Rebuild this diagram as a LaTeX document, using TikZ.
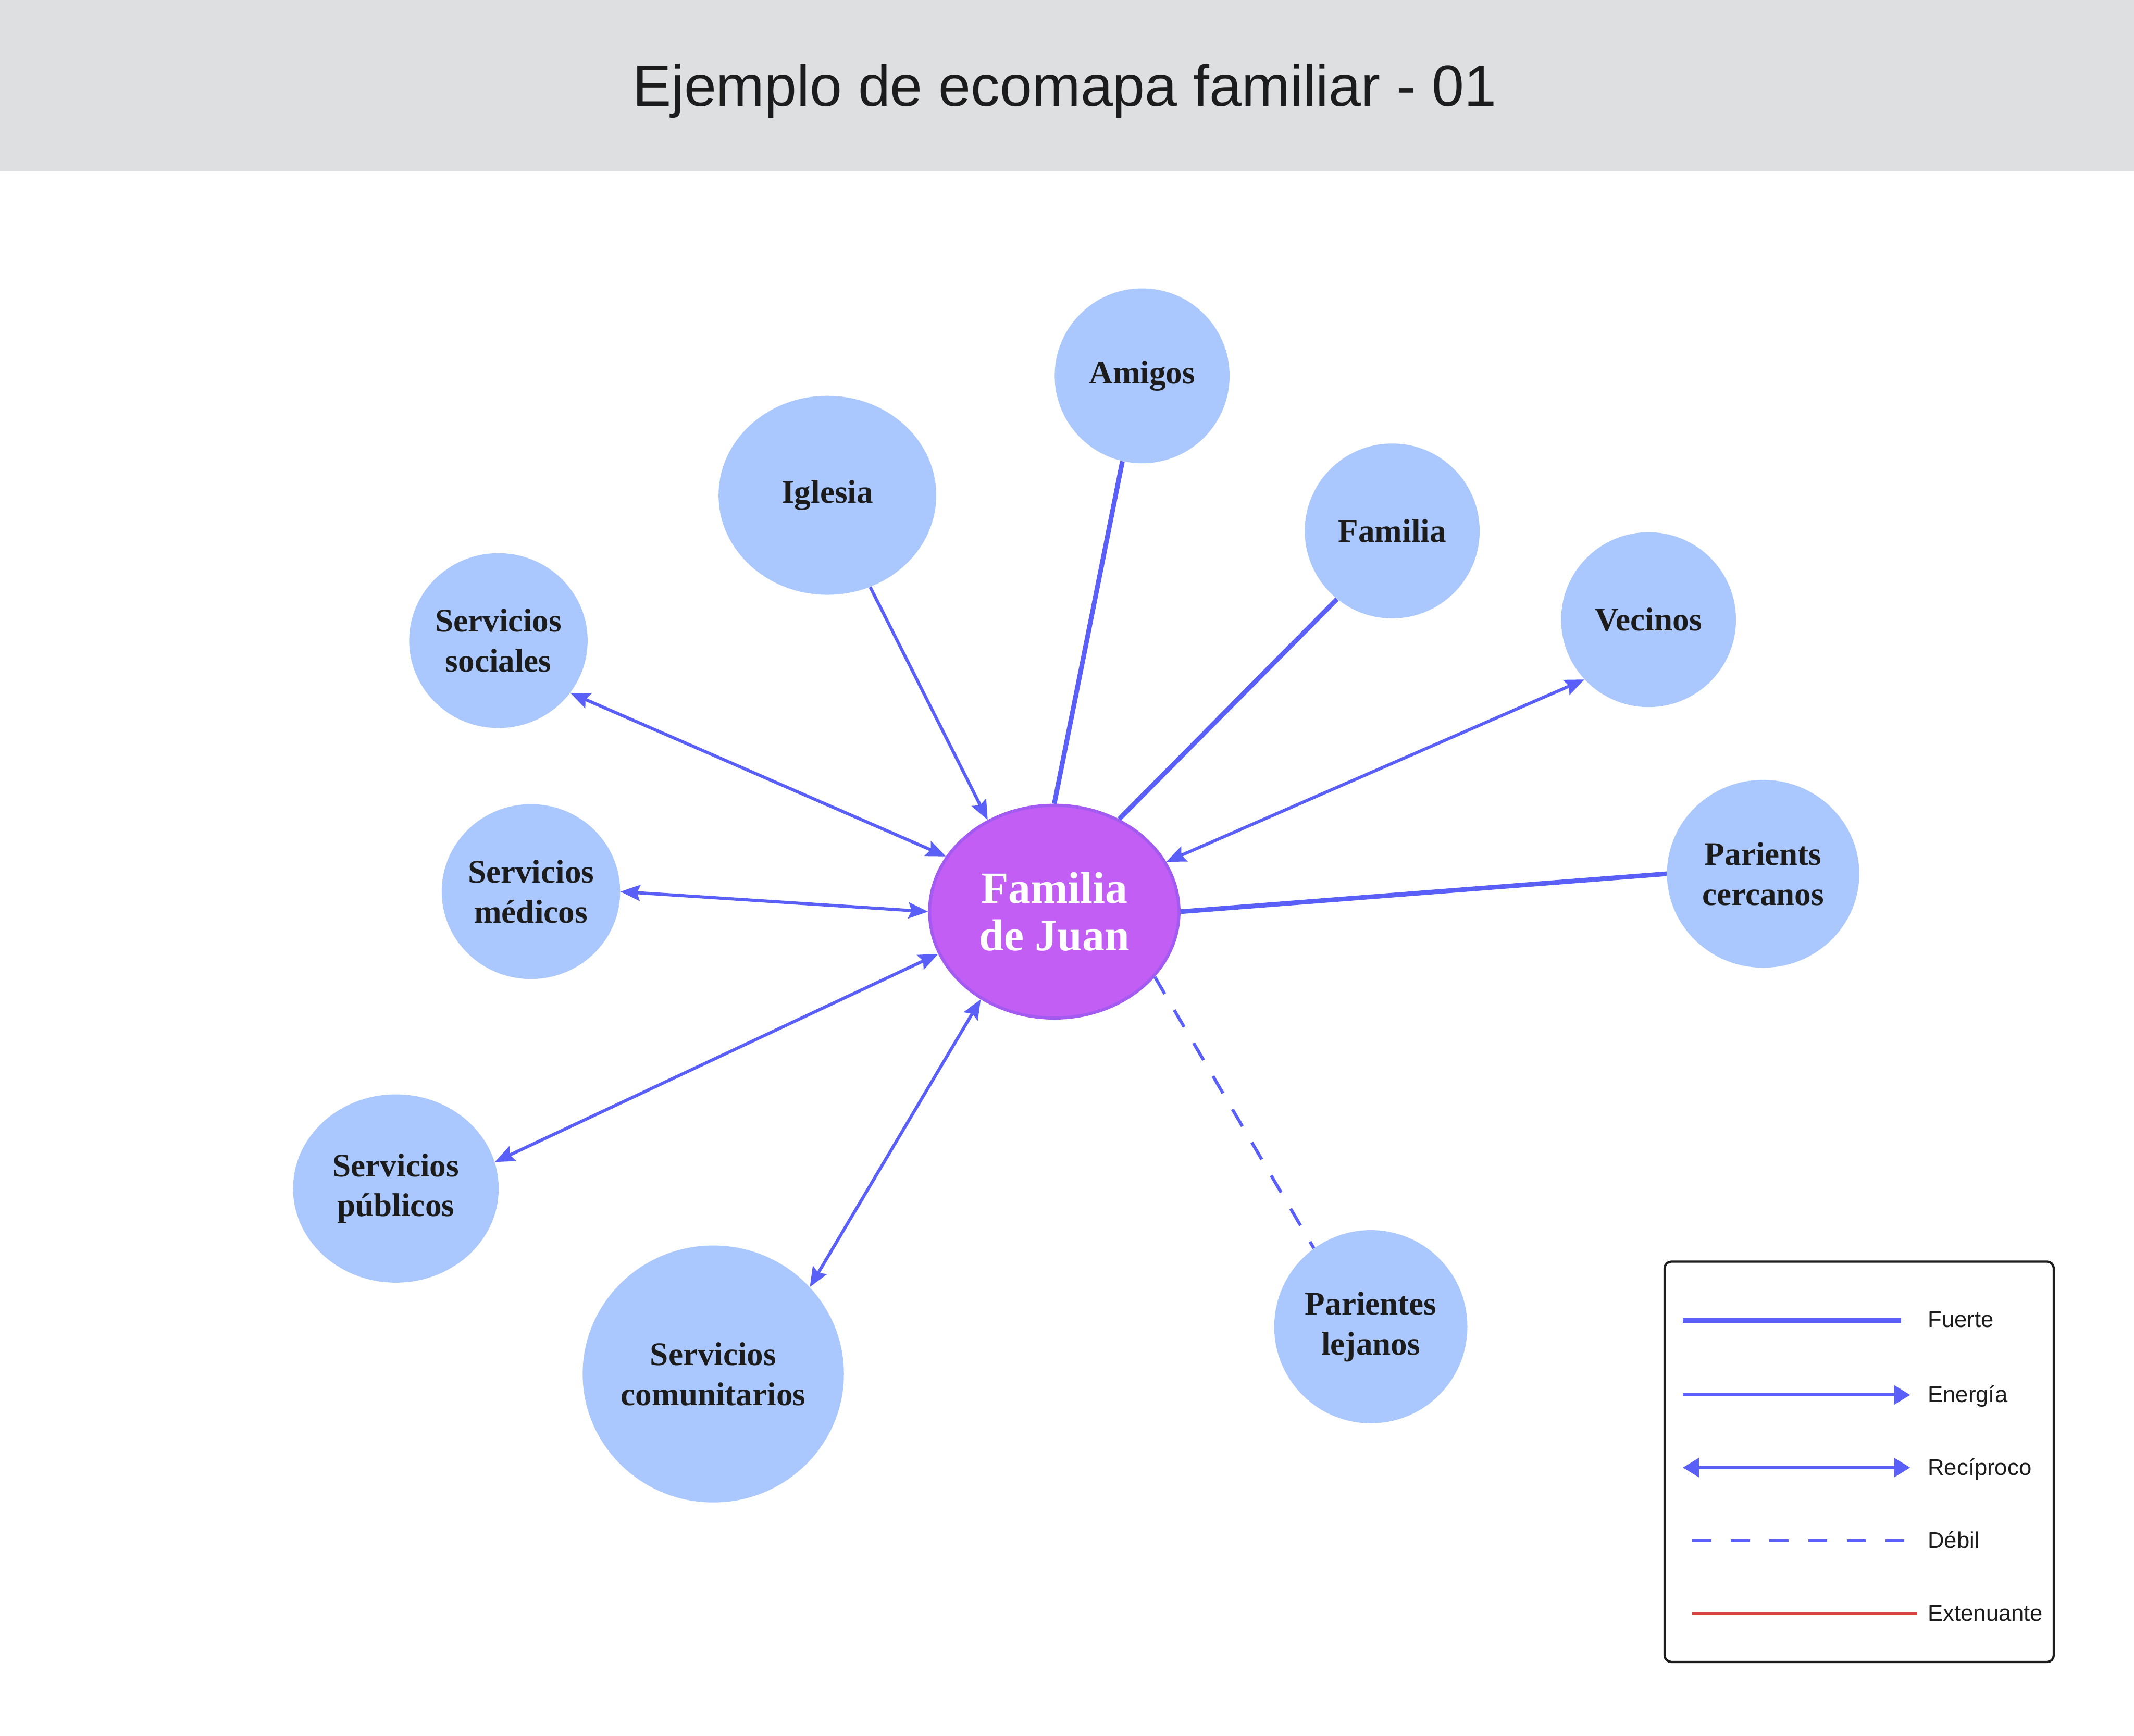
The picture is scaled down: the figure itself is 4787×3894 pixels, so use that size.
\documentclass[tikz,border=0pt]{standalone}
\usepackage{fontspec}
\setmainfont{Liberation Serif}
\newfontfamily\titlefont{Liberation Sans}
\usepackage{xcolor}
\usetikzlibrary{arrows.meta,shapes.geometric}
\definecolor{ink}{HTML}{1C1C1C}
\definecolor{band}{HTML}{DEDFE1}
\definecolor{bubble}{HTML}{AAC8FD}
\definecolor{core}{HTML}{C25EF4}
\definecolor{coreEdge}{HTML}{A25AF0}
\definecolor{link}{HTML}{5A5FF8}
\definecolor{stress}{HTML}{D9443F}
\tikzset{
  ecoTip/.tip={Stealth[length=0.44cm,width=0.36cm,inset=0.07cm]},
  keyTip/.tip={Triangle[length=0.36cm,width=0.42cm]},
  ecoNode/.style={ellipse, fill=bubble, inner sep=0pt, align=center, text=ink,
    font=\fontsize{21}{25.5}\selectfont\bfseries,
    minimum width=3.92cm, minimum height=3.92cm},
  ecoCore/.style={ellipse, fill=core, draw=coreEdge, line width=0.07cm,
    inner sep=0pt, align=center, text=white,
    font=\fontsize{28.5}{30.5}\selectfont\bfseries,
    minimum width=5.59cm, minimum height=4.77cm},
  ecoStrong/.style={draw=link, line width=0.105cm},
  ecoEnergy/.style={draw=link, line width=0.07cm, -ecoTip},
  ecoMutual/.style={draw=link, line width=0.07cm, ecoTip-ecoTip},
  ecoWeak/.style={draw=link, line width=0.07cm, dash pattern=on 0.44cm off 0.42cm},
  keyBox/.style={draw=ink, line width=0.05cm, rounded corners=0.15cm},
  keyLabel/.style={anchor=base west, text=ink, inner sep=0pt,
    font=\titlefont\fontsize{14.5}{17}\selectfont},
  titleText/.style={anchor=base, text=ink, inner sep=0pt,
    font=\titlefont\fontsize{37}{44}\selectfont}
}

\begin{document}
\begin{tikzpicture}[x=0.01cm,y=-0.01cm]
  \useasboundingbox (0,0) rectangle (4787,3894);
  \fill[white] (0,0) rectangle (4787,3894);
  \fill[band] (0,0) rectangle (4787,385);
  \node[titleText] (title) at (2388,238) {Ejemplo de ecomapa familiar - 01};

  % family and its systems
  \node[ecoCore] (juan) at (2365,2045) {Familia\\de Juan};
  \node[ecoNode] (amigos) at (2562,843) {Amigos};
  \node[ecoNode, minimum width=4.88cm, minimum height=4.46cm] (iglesia) at (1856,1111) {Iglesia};
  \node[ecoNode] (familia) at (3123,1191) {Familia};
  \node[ecoNode] (vecinos) at (3698,1390) {Vecinos};
  \node[ecoNode] (sociales) at (1118,1437) {Servicios\\sociales};
  \node[ecoNode, minimum width=4.31cm, minimum height=4.21cm] (cercanos) at (3955,1960) {Parients\\cercanos};
  \node[ecoNode] (medicos) at (1191,2000) {Servicios\\médicos};
  \node[ecoNode, minimum width=4.61cm, minimum height=4.22cm] (publicos) at (888,2666) {Servicios\\públicos};
  \node[ecoNode, minimum width=5.76cm, minimum height=5.76cm] (comunitarios) at (1600,3082) {Servicios\\comunitarios};
  \node[ecoNode, minimum width=4.33cm, minimum height=4.33cm] (lejanos) at (3075,2976) {Parientes\\lejanos};

  \draw[ecoStrong] (amigos.257) -- (juan.north);
  \draw[ecoStrong] (familia.231) -- (juan.55);
  \draw[ecoStrong] (cercanos.west) -- (juan.east);
  \draw[ecoEnergy] (iglesia.295) -- (juan.126);
  \draw[ecoMutual] (juan.24) -- (vecinos.223);
  \draw[ecoMutual] (juan.153) -- (sociales.324);
  \draw[ecoMutual] (juan.west) -- (medicos.east);
  \draw[ecoMutual] (juan.200) -- (publicos.15);
  \draw[ecoMutual] (juan.230) -- (comunitarios.42);
  \draw[ecoWeak] (juan.327) -- (lejanos.126);

  % legend
  \draw[keyBox] (3734,2830) rectangle (4607,3728);
  \coordinate (fuerteA) at (3775,2962);
  \coordinate (fuerteB) at (4265,2962);
  \coordinate (energiaA) at (3775,3129);
  \coordinate (energiaB) at (4285,3129);
  \coordinate (reciprocoA) at (3775,3292);
  \coordinate (reciprocoB) at (4285,3292);
  \coordinate (debilA) at (3796,3456);
  \coordinate (debilB) at (4272,3456);
  \coordinate (extenuanteA) at (3796,3620);
  \coordinate (extenuanteB) at (4301,3620);
  \draw[draw=link, line width=0.11cm] (fuerteA) -- (fuerteB);
  \draw[draw=link, line width=0.07cm, -keyTip] (energiaA) -- (energiaB);
  \draw[draw=link, line width=0.07cm, keyTip-keyTip] (reciprocoA) -- (reciprocoB);
  \draw[draw=link, line width=0.07cm, dash pattern=on 0.43cm off 0.436cm] (debilA) -- (debilB);
  \draw[draw=stress, line width=0.07cm] (extenuanteA) -- (extenuanteB);
  \node[keyLabel] (fuerteL) at (4324,2977) {Fuerte};
  \node[keyLabel] (energiaL) at (4324,3145) {Energía};
  \node[keyLabel] (reciprocoL) at (4324,3309) {Recíproco};
  \node[keyLabel] (debilL) at (4324,3473) {Débil};
  \node[keyLabel] (extenuanteL) at (4324,3636) {Extenuante};
\end{tikzpicture}
\end{document}
